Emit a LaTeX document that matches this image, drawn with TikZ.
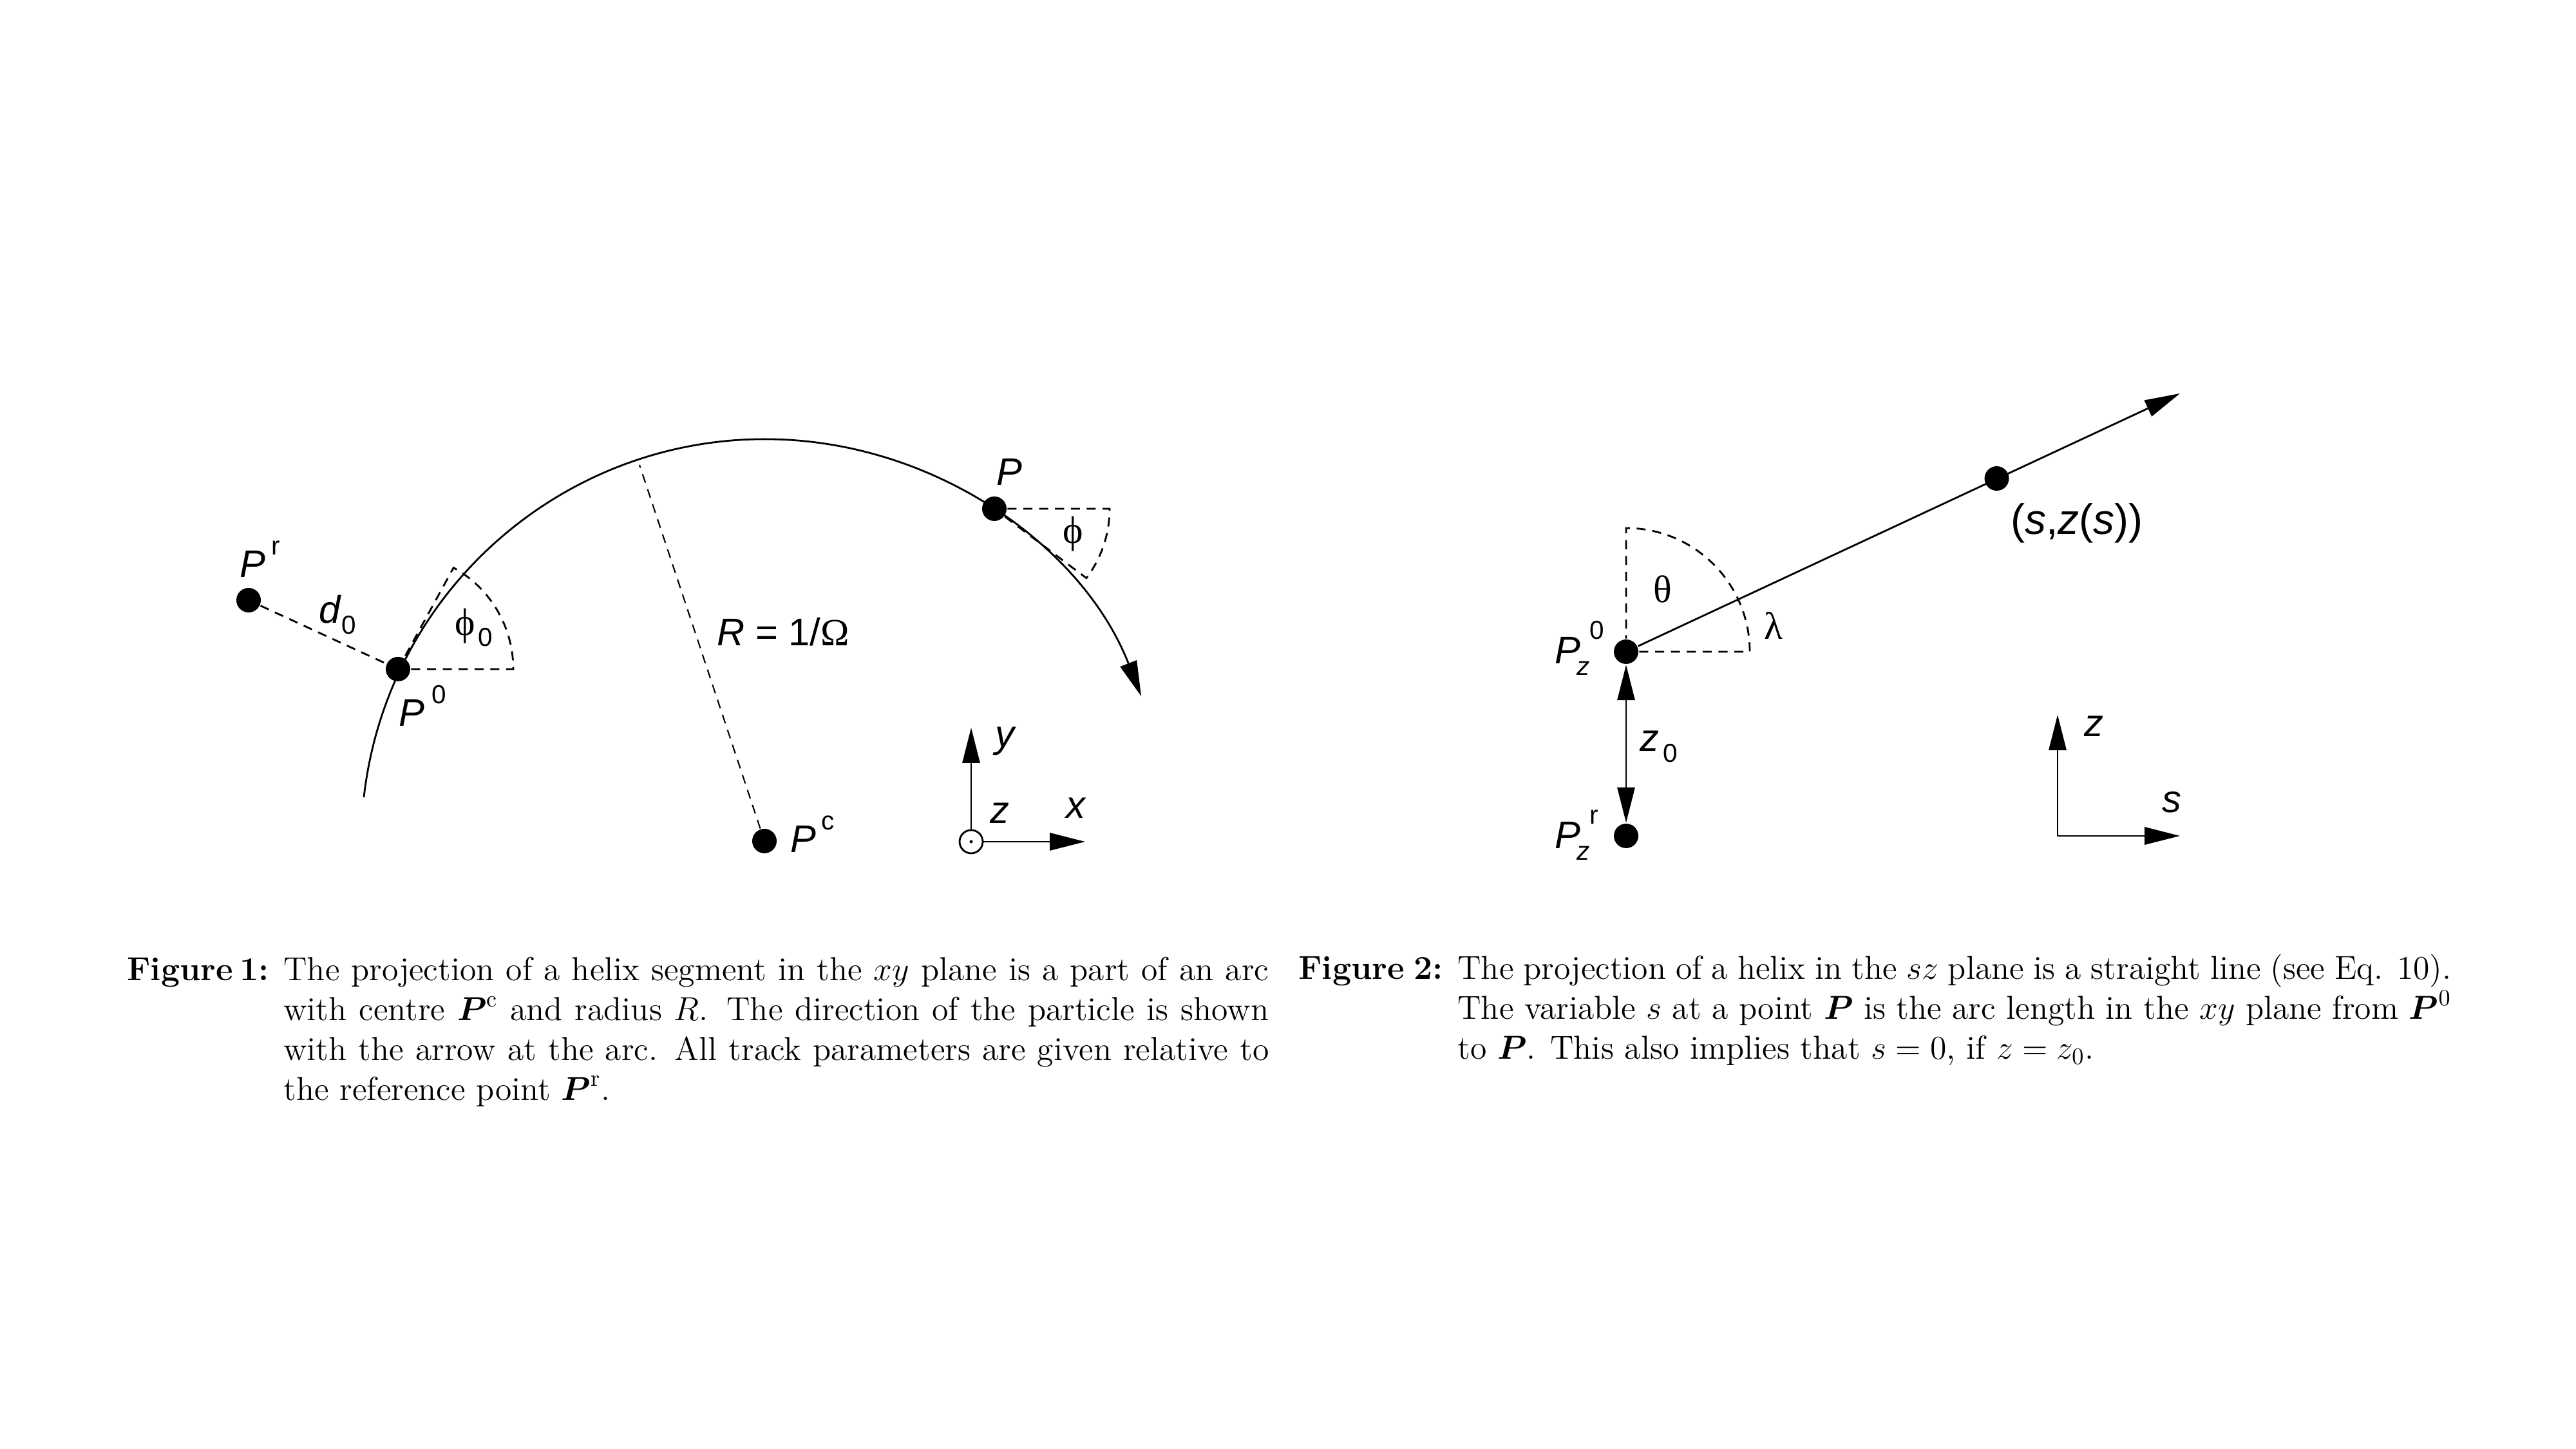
\documentclass[tikz,border=0pt]{standalone}
\usepackage{fix-cm}
\usepackage{amsmath}
\usepackage{fontspec}
\newfontfamily\hlv{Liberation Sans}
\newfontfamily\grk{Liberation Serif}
\usetikzlibrary{arrows.meta}

\newcommand{\smalllab}{\fontsize{11.5}{13}\selectfont}
\newcommand{\suplab}[2]{\kern#1\raisebox{.35cm}{\smalllab\upshape #2}}
\newcommand{\sublab}[2]{\kern#1\raisebox{-.17cm}{\smalllab\upshape #2}}
\newcommand{\pzlab}[1]{\emph{P}\rlap{\kern-.06cm\raisebox{-.18cm}{\smalllab\itshape z}}\kern.14cm\raisebox{.38cm}{\smalllab\upshape #1}}

\tikzset{
  dot/.style={circle, fill=black, inner sep=0pt, minimum size=0.38cm},
  lab/.style={anchor=base west, inner sep=0pt, font=\hlv\fontsize{17}{19}\selectfont},
  greek/.style={anchor=base west, inner sep=0pt, font=\grk\fontsize{17}{19}\selectfont},
  wedge/.style={dash pattern=on 4pt off 3pt, line width=0.8pt},
  thin dash/.style={dash pattern=on 4pt off 3pt, line width=0.6pt},
  caplabel/.style={anchor=base west, inner sep=0pt, font=\fontsize{14.7}{17.55}\selectfont\bfseries},
  captext/.style={anchor=base west, inner sep=0pt, text width=#1, align=justify, font=\fontsize{14.7}{17.55}\selectfont}
}

\begin{document}
\begin{tikzpicture}[>={Triangle[length=15.6pt,width=7.7pt]}, line width=0.8pt]
  \useasboundingbox (0,0) rectangle (40,22.5);

  \node [dot] (Pr) at ( 3.86, 13.18) {};
  \node [dot] (P0) at ( 6.18, 12.11) {};
  \node [dot] (P)  at (15.44, 14.60) {};
  \node [dot] (Pc) at (11.87,  9.44) {};

  \coordinate (arcstart) at (5.65, 10.12);
  \coordinate (Rfoot)    at (9.93, 15.28);
  \coordinate (phi0r)    at (7.97, 12.11);
  \coordinate (phir)     at (17.23, 14.60);

  \draw [->] (arcstart) arc (173.5:21.3:6.27);
  \draw [thin dash] (Pc) -- (Rfoot);
  \draw [wedge] (Pr) -- (P0);
  \draw [wedge] (P0) -- (phi0r) arc (0:61:1.8) -- (P0);
  \draw [wedge] (P) -- (phir) arc (0:-37:1.79) -- (P);

  \node [lab] (lPr) at ( 3.71, 13.53) {\emph{P}\suplab{.09cm}{r}};
  \node [lab] (lP0) at ( 6.18, 11.22) {\emph{P}\suplab{.11cm}{0}};
  \node [lab] (lPc) at (12.26,  9.26) {\emph{P}\suplab{.08cm}{c}};
  \node [lab] (lP)  at (15.46, 14.96) {\emph{P}};
  \node [lab] (ld0) at ( 4.94, 12.82) {\emph{d}\sublab{.0cm}{0}};
  \node [greek] (lphi0) at (7.05, 12.63) {\char"03D5\sublab{.05cm}{\hlv 0}};
  \node [greek] (lphi)  at (16.49, 14.06) {\char"03D5};
  \node [lab] (lR)  at (11.12, 12.47) {\emph{R} = 1/{\grk\char"03A9}};

  \node [circle, draw, fill=white, inner sep=0pt, minimum size=0.36cm] (axO) at (15.08, 9.43) {};
  \node [circle, fill=black, inner sep=0pt, minimum size=0.05cm] (axOdot) at (15.08, 9.43) {};
  \coordinate (axY) at (15.08, 11.20);
  \coordinate (axX) at (16.85, 9.43);
  \draw [->] (axO) -- (axY);
  \draw [->] (axO) -- (axX);
  \node [lab] (ly) at (15.44, 10.89) {\emph{y}};
  \node [lab] (lz) at (15.36,  9.71) {\emph{z}};
  \node [lab] (lx) at (16.54,  9.79) {\emph{x}};

  \node [dot] (P0z) at (25.25, 12.38) {};
  \node [dot] (Prz) at (25.25,  9.52) {};
  \node [dot] (Pzs) at (31.005, 15.07) {};
  \coordinate (tip)  at (33.85, 16.39);
  \coordinate (lamr) at (27.17, 12.38);
  \coordinate (zY)   at (31.95, 11.40);
  \coordinate (sX)   at (33.85,  9.52);
  \coordinate (zs)   at (31.95,  9.52);

  \draw [->] (P0z) -- (tip);
  \draw [<->] (P0z) -- (Prz);
  \draw [wedge] (P0z) -- (lamr) arc (0:90:1.92) -- (P0z);
  \draw [->] (zs) -- (zY);
  \draw [->] (zs) -- (sX);

  \node [lab] (lP0z) at (24.13, 12.19) {\pzlab{0}};
  \node [lab] (lPrz) at (24.13,  9.32) {\pzlab{r}};
  \node [lab] (lz0)  at (25.45, 10.83) {\emph{z}\sublab{.06cm}{0}};
  \node [lab] (lzz)  at (32.35, 11.06) {\emph{z}};
  \node [lab] (lss)  at (33.56,  9.88) {\emph{s}};
  \node [lab, font=\hlv\fontsize{18.8}{20}\selectfont] (lszs) at (31.21, 14.20) {(\emph{s},\emph{z}(\emph{s}))};
  \node [greek] (lth)  at (25.66, 13.14) {\char"03B8};
  \node [greek] (llam) at (27.38, 12.57) {\char"03BB};

  \node [caplabel] (cap1) at (1.96, 7.27) {Figure\kern.2em 1:};
  \node [captext=15.3cm] (txt1) at (4.39, 7.27) {The projection of a helix segment in the $xy$ plane is a part of an arc with centre $\boldsymbol{P}^{\mathrm{c}}$ and radius $R$. The direction of the particle is shown with the arrow at the arc. All track parameters are given relative to the reference point $\boldsymbol{P}^{\mathrm{r}}$.};
  \node [caplabel] (cap2) at (20.15, 7.29) {Figure\kern.28em 2:};
  \node [captext=15.43cm] (txt2) at (22.62, 7.29) {The projection of a helix in the $sz$ plane is a straight line (see Eq. 10). The variable $s$ at a point $\boldsymbol{P}$ is the arc length in the $xy$ plane from $\boldsymbol{P}^{0}$ to $\boldsymbol{P}$. This also implies that $s=0$, if $z=z_0$.};
\end{tikzpicture}
\end{document}
